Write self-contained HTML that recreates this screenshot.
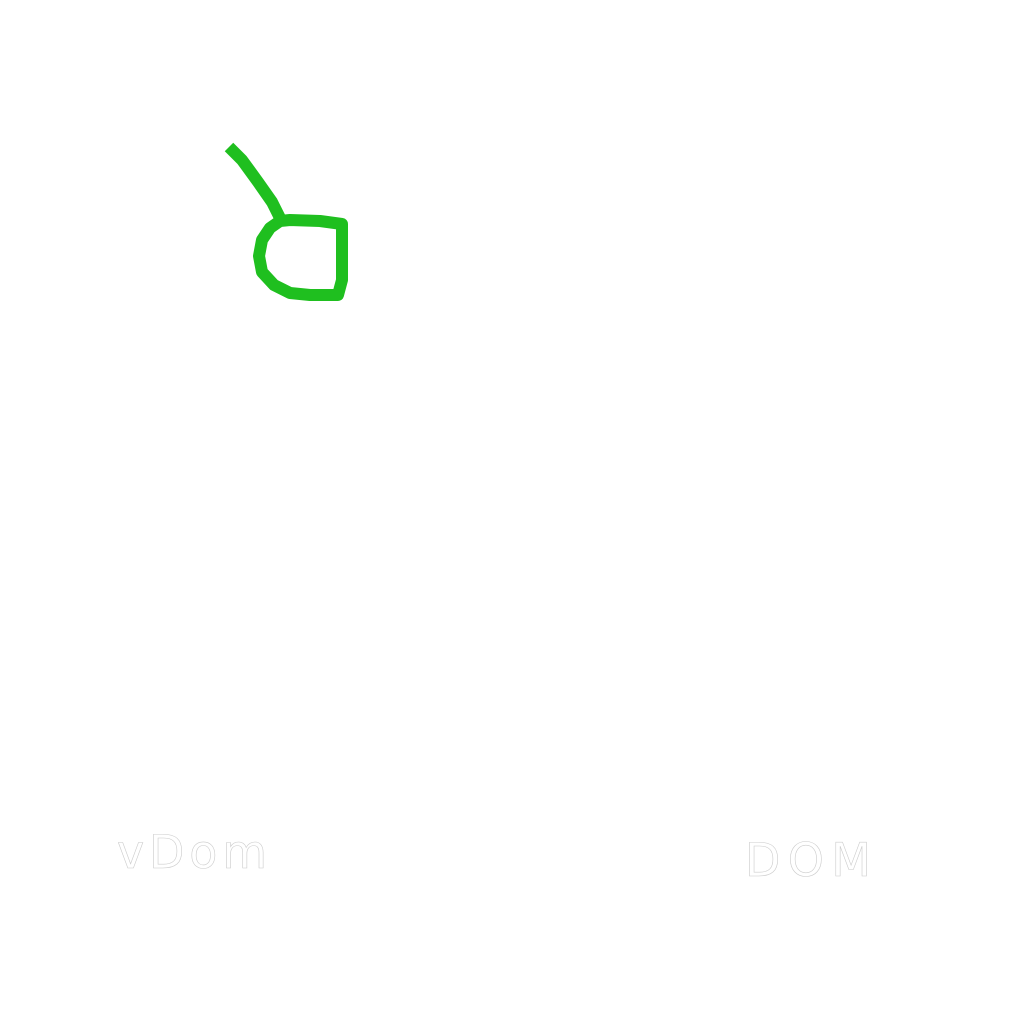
<!DOCTYPE html>
<html><head><style>
html,body{margin:0;padding:0;background:#fff;width:1024px;height:1024px;overflow:hidden}
</style></head><body>
<svg width="1024" height="1024" viewBox="0 0 1024 1024" xmlns="http://www.w3.org/2000/svg">
<rect width="1024" height="1024" fill="#fff"/>
<g fill="none" stroke="#1fbf1f" stroke-width="12" stroke-linejoin="round" stroke-linecap="butt">
<path d="M229 147 L242 160 L258 182 L272 202 L280 218"/>
<path d="M280 221 L270 228 L262 240 L259 256 L262 272 L274 285 L290 293 L310 295 L338 295 L342 280 L342 224 L320 221 L290 220 Z"/>
</g>
<g font-family="'DejaVu Sans','Liberation Sans',sans-serif" font-size="46" fill="#fff" stroke="#ccc" stroke-width="0.6">
<text x="117" y="868" textLength="150" lengthAdjust="spacing">vDom</text>
<text x="745" y="876" textLength="126" lengthAdjust="spacing">DOM</text>
</g>
</svg>
</body></html>
